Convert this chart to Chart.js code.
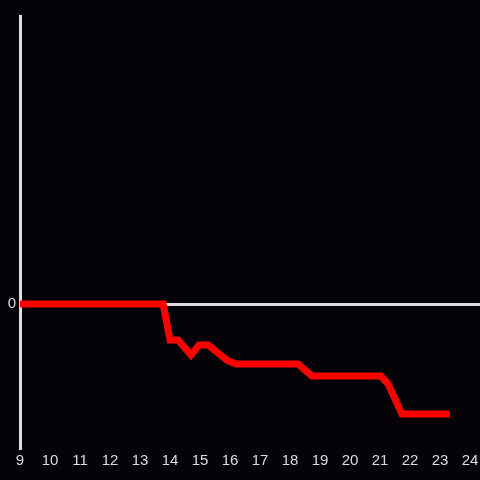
<!DOCTYPE html>
<html><head><meta charset="utf-8">
<script src="https://cdn.jsdelivr.net/npm/chart.js@4"></script>
<style>html,body{margin:0;padding:0;background:#050307;}#w{width:480px;height:480px;}</style>
</head><body><div id="w"><canvas id="c" width="480" height="480"></canvas></div>
<script>
const xValues = [9, 13.77, 14.0, 14.27, 14.7, 14.97, 15.27, 15.9, 16.2, 18.27, 18.73, 21.03, 21.27, 21.73, 23.33];
const yValues = [0, 0, -0.25, -0.25, -0.354, -0.285, -0.285, -0.39, -0.417, -0.417, -0.5, -0.5, -0.556, -0.764, -0.764];
const xTickLabels = [9, 10, 11, 12, 13, 14, 15, 16, 17, 18, 19, 20, 21, 22, 23, 24];
const yTickLabels = ['0'];

const pts = xValues.map((x, i) => ({x: x, y: yValues[i]}));
new Chart(document.getElementById('c'), {
  type: 'line',
  data: { datasets: [{ data: pts, borderColor: '#ff0000', borderWidth: 7, pointRadius: 0, tension: 0, fill: false }] },
  options: {
    responsive: false, animation: false,
    layout: { padding: { top: 16, right: 0, left: 0, bottom: 0 } },
    plugins: { legend: { display: false }, tooltip: { enabled: false } },
    scales: {
      x: {
        type: 'linear', min: 9, max: 24.333,
        grid: { display: false, drawTicks: false }, border: { display: false },
        afterBuildTicks: s => { s.ticks = xTickLabels.map(v => ({value: v})); },
        ticks: { color: '#dddddd', font: { size: 15 }, padding: 4, autoSkip: false, maxRotation: 0,
          callback: v => String(v) },
        afterFit: s => { s.height = 32; s.paddingRight = 0; s.paddingLeft = 0; }
      },
      y: {
        min: -1, max: 2,
        grid: { drawTicks: false, lineWidth: 3, color: c => (c.tick && c.tick.value === 0) ? '#dddddd' : 'rgba(0,0,0,0)' },
        border: { display: true, color: '#dddddd', width: 3 },
        ticks: { stepSize: 1, color: '#dddddd', font: { size: 15 }, padding: 4,
          callback: v => yTickLabels.includes(String(v)) ? String(v) : '' },
        afterFit: s => { s.width = 20; }
      }
    }
  }
});
</script></body></html>
